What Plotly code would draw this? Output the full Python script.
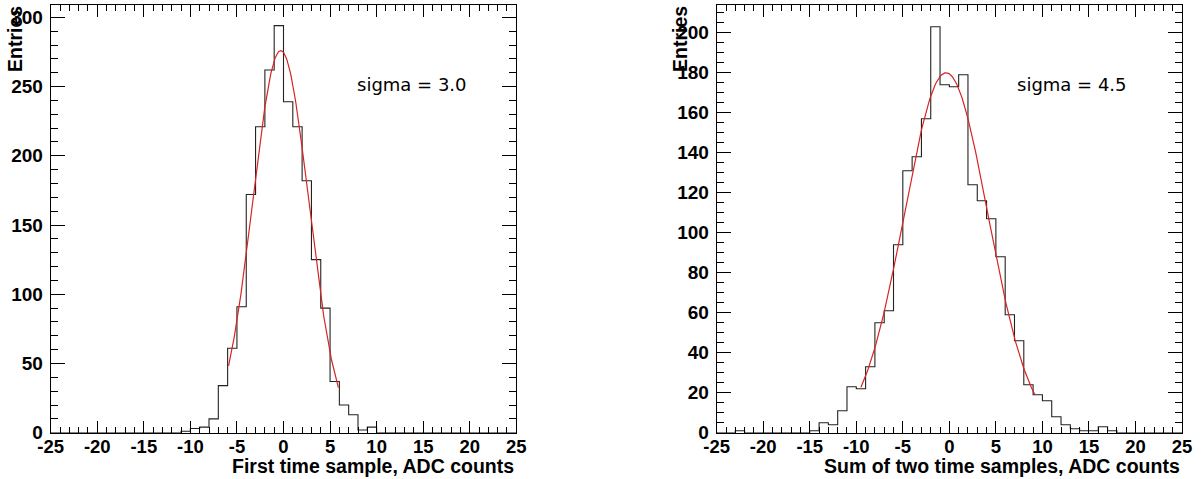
import numpy as np
import plotly.graph_objects as go

# ---------------- data ----------------
bin_edges = list(range(-25, 26))  # 1 ADC count wide bins, -25..25

# First time sample histogram (bins -25..24)
counts_first = [0]*14 + [1, 3, 4, 10, 34, 61, 91, 172, 221, 262, 294,
                         239, 221, 182, 125, 90, 37, 20, 13, 2, 4] + [0]*15
# Sum of two time samples histogram (bins -25..24)
counts_sum = [0, 0, 1, 0, 0, 0, 0, 0, 0, 0, 1, 5, 4, 11, 23, 22, 33, 55, 61, 94,
              131, 138, 157, 203, 174, 173, 179, 124, 116, 107, 88, 59, 46, 24,
              19, 16, 8, 4, 2, 1, 1, 3, 1, 0, 0, 0, 0, 0, 0, 0]

# Gaussian fit parameters: amplitude, mean, sigma, fit range
fit_first = dict(amp=276, mean=-0.3, sigma=3.0, lo=-5.9, hi=5.9)
fit_sum = dict(amp=180, mean=-0.35, sigma=4.5, lo=-9.5, hi=9.2)

x_ticks = [-25, -20, -15, -10, -5, 0, 5, 10, 15, 20, 25]
x_ticktext = ["-25", "-20", "-15", "-10", "-5", "0", "5", "10", "15", "20", "25"]
y_ticks_first = [0, 50, 100, 150, 200, 250, 300]
y_ticks_sum = [0, 20, 40, 60, 80, 100, 120, 140, 160, 180, 200]

titles_x = ["First time sample, ADC counts", "Sum of two time samples, ADC counts"]
labels_sigma = ["sigma = 3.0", "sigma = 4.5"]

# ---------------- figure ----------------
W, H = 1201, 479
fig = go.Figure()

def gauss_curve(p):
    xs = np.linspace(p["lo"], p["hi"], 200)
    ys = p["amp"] * np.exp(-0.5 * ((xs - p["mean"]) / p["sigma"]) ** 2)
    return xs, ys

for i, (counts, fit) in enumerate([(counts_first, fit_first), (counts_sum, fit_sum)]):
    xa = "x" if i == 0 else "x2"
    ya = "y" if i == 0 else "y2"
    fig.add_trace(go.Scatter(
        x=bin_edges, y=counts + [counts[-1]], mode="lines",
        line=dict(shape="hv", color="#222222", width=1.1),
        xaxis=xa, yaxis=ya, showlegend=False, hoverinfo="skip"))
    fx, fy = gauss_curve(fit)
    fig.add_trace(go.Scatter(
        x=fx, y=fy, mode="lines",
        line=dict(color="rgb(215,35,35)", width=1.2),
        xaxis=xa, yaxis=ya, showlegend=False, hoverinfo="skip"))

FAM = "Liberation Sans, Arial, sans-serif"
font_ytick = dict(family=FAM, size=19, color="black", weight="bold")
font_xtick = dict(family=FAM, size=18.5, color="black", weight="bold")
font_title = dict(family=FAM, size=19.5, color="black", weight="bold")

y_bot = 1 - 432.7 / H
y_top = 1 - 5 / H
dom1 = [50.7 / W, 516.3 / W]
dom2 = [716.7 / W, 1182 / W]

common_x = dict(range=[-25, 25], tickmode="array", tickvals=x_ticks, ticktext=x_ticktext,
                ticks="inside", ticklen=12, tickwidth=1, tickcolor="black",
                minor=dict(dtick=1, ticks="inside", ticklen=6, tickwidth=1, tickcolor="black"),
                showline=True, linecolor="black", linewidth=1, mirror="ticks",
                showgrid=False, zeroline=False, tickfont=font_xtick, fixedrange=True,
                automargin=False, ticklabelstandoff=-3)
common_y = dict(tickmode="array", ticks="inside", ticklen=14, tickwidth=1, tickcolor="black",
                showline=True, linecolor="black", linewidth=1, mirror="ticks",
                showgrid=False, zeroline=False, tickfont=font_ytick, ticklabelstandoff=3,
                automargin=False, fixedrange=True)

fig.update_layout(
    width=W, height=H, margin=dict(l=0, r=0, t=0, b=0, autoexpand=False),
    paper_bgcolor="white", plot_bgcolor="white",
    xaxis=dict(domain=dom1, anchor="y", **common_x),
    xaxis2=dict(domain=dom2, anchor="y2", **common_x),
    yaxis=dict(domain=[y_bot, y_top], anchor="x", range=[0, 308.9],
               tickvals=y_ticks_first,
               minor=dict(dtick=10, ticks="inside", ticklen=7, tickwidth=1, tickcolor="black"),
               **common_y),
    yaxis2=dict(domain=[y_bot, y_top], anchor="x2", range=[0, 213.9],
                tickvals=y_ticks_sum,
                minor=dict(dtick=5, ticks="inside", ticklen=7, tickwidth=1, tickcolor="black"),
                **common_y),
)

annots = []
for i in range(2):
    dom = dom1 if i == 0 else dom2
    # x-axis titles, right aligned to frame
    annots.append(dict(text=titles_x[i], xref="paper", yref="paper",
                       x=dom[1], y=1 - 466 / H, xanchor="right", yanchor="middle",
                       showarrow=False, font=font_title))
    # y-axis titles "Entries"
    annots.append(dict(text="Entries", xref="paper", yref="paper",
                       x=(15 if i == 0 else 680) / W, y=1 - 4 / H,
                       xanchor="center", yanchor="top", textangle=-90,
                       showarrow=False, font=font_title))
    # sigma labels
    annots.append(dict(text=labels_sigma[i], xref="paper", yref="paper",
                       x=(355 if i == 0 else 1015) / W, y=1 - 84 / H,
                       xanchor="left", yanchor="middle", showarrow=False,
                       font=dict(family="DejaVu Sans", size=18, color="black")))
fig.update_layout(annotations=annots)

fig.write_html("out.html")
